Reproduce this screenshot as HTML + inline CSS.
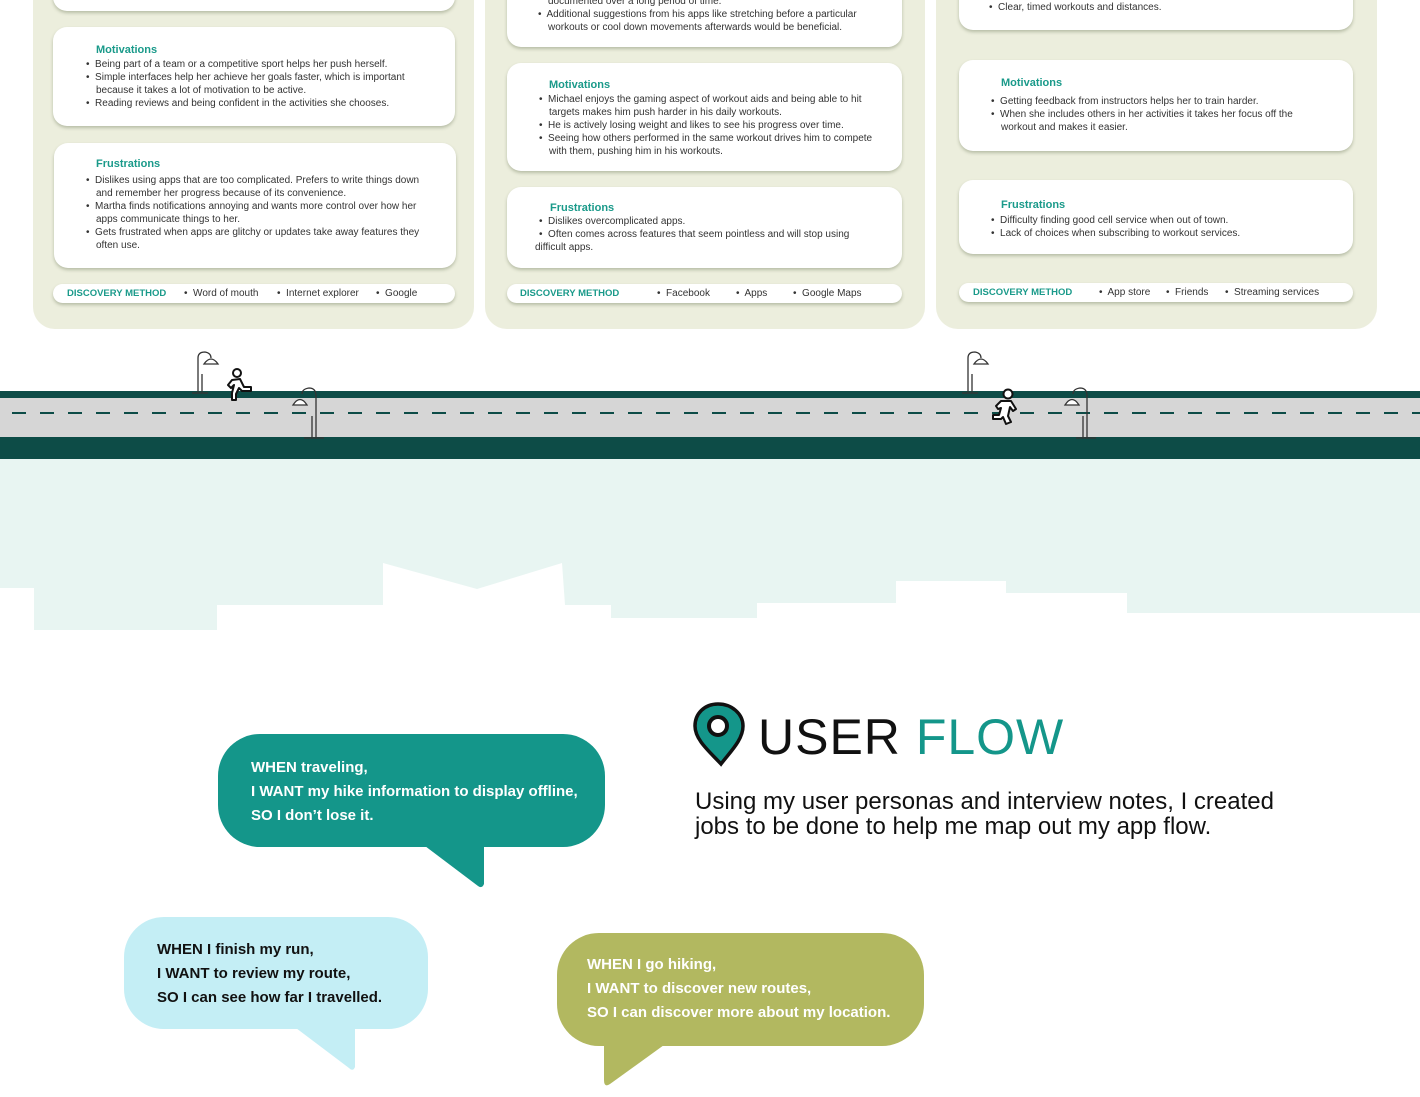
<!DOCTYPE html>
<html><head><meta charset="utf-8"><style>
*{margin:0;padding:0;box-sizing:border-box}
body{width:1420px;height:1097px;position:relative;overflow:hidden;background:#fff;font-family:"Liberation Sans",sans-serif}
.abs{position:absolute}
.panel{position:absolute;top:-30px;height:359px;background:#eceedd;border-radius:22px}
.card{position:absolute;background:#fff;border-radius:14px;box-shadow:0 2px 3px rgba(120,130,100,.45)}
.t{position:absolute;font-size:10px;color:#333;white-space:nowrap;line-height:13px}
.h{position:absolute;font-size:11px;font-weight:bold;color:#1a9a8a;white-space:nowrap}
.pill{position:absolute;height:19px;background:#fff;border-radius:10px;box-shadow:0 2px 3px rgba(120,130,100,.45)}
.dm{position:absolute;font-size:9.5px;font-weight:bold;color:#1a9a8a;white-space:nowrap;top:4px}
.di{position:absolute;font-size:10px;color:#333;white-space:nowrap;top:4px}
.bub{position:absolute;font-size:15px;font-weight:bold;line-height:24px;white-space:nowrap}
</style></head><body>

<div class="panel" style="left:33px;width:441px"></div>
<div class="panel" style="left:485px;width:440px"></div>
<div class="panel" style="left:936px;width:441px"></div>

<!-- LEFT -->
<div class="card" style="left:53px;top:-20px;width:402px;height:31px"></div>
<div class="card" style="left:53px;top:27px;width:402px;height:99px"></div>
<div class="h" style="left:96px;top:44px">Motivations</div>
<div class="t" style="left:86px;top:58px">•&nbsp; Being part of a team or a competitive sport helps her push herself.</div>
<div class="t" style="left:86px;top:71px">•&nbsp; Simple interfaces help her achieve her goals faster, which is important</div>
<div class="t" style="left:96px;top:84px">because it takes a lot of motivation to be active.</div>
<div class="t" style="left:86px;top:97px">•&nbsp; Reading reviews and being confident in the activities she chooses.</div>
<div class="card" style="left:54px;top:143px;width:402px;height:125px"></div>
<div class="h" style="left:96px;top:158px">Frustrations</div>
<div class="t" style="left:86px;top:174px">•&nbsp; Dislikes using apps that are too complicated. Prefers to write things down</div>
<div class="t" style="left:96px;top:187px">and remember her progress because of its convenience.</div>
<div class="t" style="left:86px;top:200px">•&nbsp; Martha finds notifications annoying and wants more control over how her</div>
<div class="t" style="left:96px;top:213px">apps communicate things to her.</div>
<div class="t" style="left:86px;top:226px">•&nbsp; Gets frustrated when apps are glitchy or updates take away features they</div>
<div class="t" style="left:96px;top:239px">often use.</div>
<div class="pill" style="left:53px;top:284px;width:402px">
<div class="dm" style="left:14px">DISCOVERY METHOD</div>
<div class="di" style="left:131px">•&nbsp; Word of mouth</div>
<div class="di" style="left:224px">•&nbsp; Internet explorer</div>
<div class="di" style="left:323px">•&nbsp; Google</div></div>

<!-- MIDDLE -->
<div class="card" style="left:507px;top:-20px;width:395px;height:67px"></div>
<div class="t" style="left:548px;top:-5px">documented over a long period of time.</div>
<div class="t" style="left:538px;top:8px">•&nbsp; Additional suggestions from his apps like stretching before a particular</div>
<div class="t" style="left:548px;top:21px">workouts or cool down movements afterwards would be beneficial.</div>
<div class="card" style="left:507px;top:63px;width:395px;height:108px"></div>
<div class="h" style="left:549px;top:79px">Motivations</div>
<div class="t" style="left:539px;top:93px">•&nbsp; Michael enjoys the gaming aspect of workout aids and being able to hit</div>
<div class="t" style="left:549px;top:106px">targets makes him push harder in his daily workouts.</div>
<div class="t" style="left:539px;top:119px">•&nbsp; He is actively losing weight and likes to see his progress over time.</div>
<div class="t" style="left:539px;top:132px">•&nbsp; Seeing how others performed in the same workout drives him to compete</div>
<div class="t" style="left:549px;top:145px">with them, pushing him in his workouts.</div>
<div class="card" style="left:507px;top:187px;width:395px;height:81px"></div>
<div class="h" style="left:550px;top:202px">Frustrations</div>
<div class="t" style="left:539px;top:215px">•&nbsp; Dislikes overcomplicated apps.</div>
<div class="t" style="left:539px;top:228px">•&nbsp; Often comes across features that seem pointless and will stop using</div>
<div class="t" style="left:535px;top:241px">difficult apps.</div>
<div class="pill" style="left:507px;top:284px;width:395px">
<div class="dm" style="left:13px">DISCOVERY METHOD</div>
<div class="di" style="left:150px">•&nbsp; Facebook</div>
<div class="di" style="left:229px">•&nbsp; Apps</div>
<div class="di" style="left:286px">•&nbsp; Google Maps</div></div>

<!-- RIGHT -->
<div class="card" style="left:959px;top:-20px;width:394px;height:50px"></div>
<div class="t" style="left:989px;top:1px">•&nbsp; Clear, timed workouts and distances.</div>
<div class="card" style="left:959px;top:60px;width:394px;height:91px"></div>
<div class="h" style="left:1001px;top:77px">Motivations</div>
<div class="t" style="left:991px;top:95px">•&nbsp; Getting feedback from instructors helps her to train harder.</div>
<div class="t" style="left:991px;top:108px">•&nbsp; When she includes others in her activities it takes her focus off the</div>
<div class="t" style="left:1001px;top:121px">workout and makes it easier.</div>
<div class="card" style="left:959px;top:180px;width:394px;height:74px"></div>
<div class="h" style="left:1001px;top:199px">Frustrations</div>
<div class="t" style="left:991px;top:214px">•&nbsp; Difficulty finding good cell service when out of town.</div>
<div class="t" style="left:991px;top:227px">•&nbsp; Lack of choices when subscribing to workout services.</div>
<div class="pill" style="left:959px;top:283px;width:394px">
<div class="dm" style="left:14px">DISCOVERY METHOD</div>
<div class="di" style="left:140px">•&nbsp; App store</div>
<div class="di" style="left:207px">•&nbsp; Friends</div>
<div class="di" style="left:266px">•&nbsp; Streaming services</div></div>

<!-- ROAD + SKYLINE -->
<svg class="abs" style="left:0;top:340px" width="1420" height="300" viewBox="0 340 1420 300">
<polygon fill="#e8f5f2" points="0,459 1420,459 1420,613 1127,613 1127,593 1006,593 1006,581 896,581 896,603 757,603 757,618 611,618 611,605 565,605 562,563 477,589 383,563 383,605 217,605 217,630 34,630 34,588 0,588"/>
<rect x="0" y="391" width="1420" height="7" fill="#0d4c47"/>
<rect x="0" y="398" width="1420" height="39" fill="#d6d6d6"/>
<rect x="0" y="437" width="1420" height="22" fill="#0d4c47"/>
<line x1="12" y1="413" x2="1420" y2="413" stroke="#0d4c47" stroke-width="2" stroke-dasharray="14,14"/>
<g fill="none" stroke="#333" stroke-width="1.3">
 <path d="M198,392 V358 Q198,352 205,352 Q211,353 211,358"/><line x1="202" y1="392" x2="202" y2="374"/><line x1="192" y1="393" x2="208" y2="393"/>
 <path d="M204,364 q7,-10 14,0 z" fill="#fff"/>
 <path d="M316,438 V396 Q316,388 309,388 Q302,389 302,394"/><line x1="312" y1="438" x2="312" y2="416"/><line x1="304" y1="438" x2="324" y2="438"/>
 <path d="M293,405 q7,-11 14,0 z" fill="#fff"/>
 <path d="M968,392 V358 Q968,352 975,352 Q981,353 981,358"/><line x1="972" y1="392" x2="972" y2="374"/><line x1="962" y1="393" x2="978" y2="393"/>
 <path d="M974,364 q7,-10 14,0 z" fill="#fff"/>
 <path d="M1087,438 V396 Q1087,388 1080,388 Q1073,389 1073,394"/><line x1="1083" y1="438" x2="1083" y2="416"/><line x1="1076" y1="438" x2="1096" y2="438"/>
 <path d="M1065,405 q7,-11 14,0 z" fill="#fff"/>
</g>
<g fill="#fff" stroke="#111" stroke-width="2" stroke-linejoin="round">
 <circle cx="237" cy="373" r="4"/>
 <path d="M232,380 l8,-1 l4,8 l7,0 l0,4 l-9,0 l-3,-3 l-3,6 l0,6 l-4,0 l0,-7 l2,-8 l-3,3 l-3,-3 z"/>
 <circle cx="1008" cy="394" r="4.5"/>
 <path d="M1001,401 l10,0 l5,8 l-3,2 l-3,-4 l-2,9 l3,6 l-5,2 l-3,-7 l-2,2 l-8,0 l0,-4 l6,0 l2,-7 l-3,1 l-2,-3 z"/>
</g>
</svg>

<!-- HEADER -->
<svg class="abs" style="left:690px;top:700px" width="60" height="70">
<path d="M28,4 C14,4 5,14 5,26 C5,40 20,52 31,64 C40,52 53,40 53,26 C53,14 42,4 28,4 Z" fill="#14968a" stroke="#111" stroke-width="3.5"/>
<circle cx="28" cy="26" r="9" fill="#fff" stroke="#111" stroke-width="4"/>
</svg>
<div class="abs" style="left:758px;top:705px;font-size:50px;letter-spacing:1px;white-space:nowrap;color:#111;line-height:64px">USER <span style="color:#14968a">FLOW</span></div>
<div class="abs" style="left:695px;top:789px;font-size:24px;line-height:25px;color:#111;white-space:nowrap">Using my user personas and interview notes, I created<br>jobs to be done to help me map out my app flow.</div>

<!-- BUBBLES -->
<svg class="abs" style="left:0;top:700px" width="1000" height="397" viewBox="0 700 1000 397">
<rect x="218" y="734" width="387" height="113" rx="42" fill="#14968a"/>
<path d="M425,846 L484,846 L484,884 Q482,889 478,886 Z" fill="#14968a"/>
<rect x="124" y="917" width="304" height="112" rx="40" fill="#c4eef5"/>
<path d="M296,1028 L355,1028 L355,1067 Q353,1072 349,1068 Z" fill="#c4eef5"/>
<rect x="557" y="933" width="367" height="113" rx="42" fill="#b2b860"/>
<path d="M604,1045 L664,1045 L610,1084 Q604,1088 604,1080 Z" fill="#b2b860"/>
</svg>
<div class="bub" style="left:251px;top:756px;color:#fff">WHEN traveling,<br>I WANT my hike information to display offline,<br>SO I don’t lose it.</div>
<div class="bub" style="left:157px;top:938px;color:#111">WHEN I finish my run,<br>I WANT to review my route,<br>SO I can see how far I travelled.</div>
<div class="bub" style="left:587px;top:953px;color:#fff">WHEN I go hiking,<br>I WANT to discover new routes,<br>SO I can discover more about my location.</div>

</body></html>
